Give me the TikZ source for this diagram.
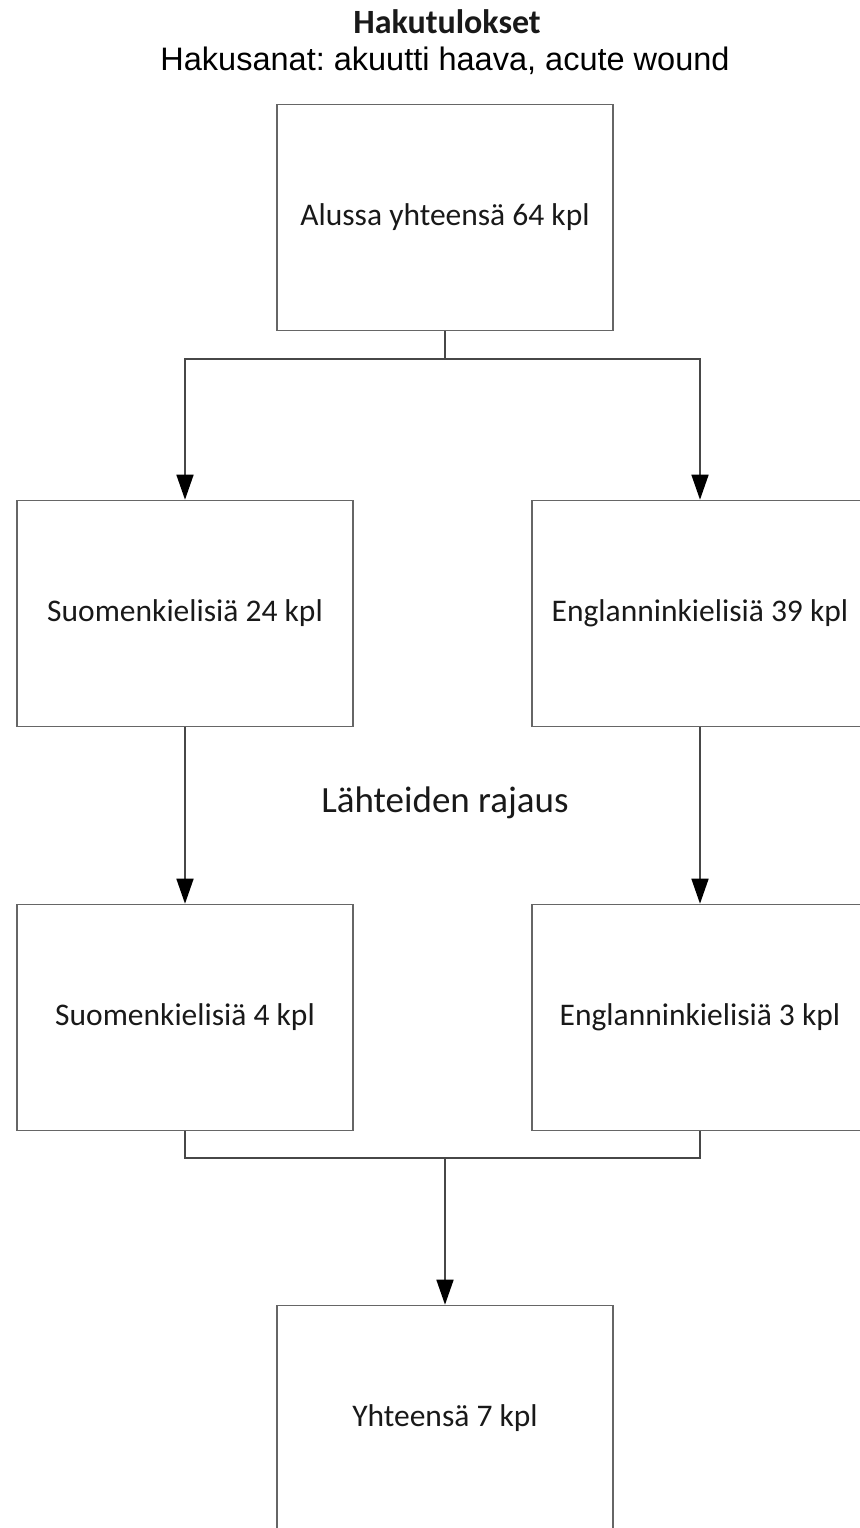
\documentclass[tikz,border=0pt]{standalone}
\usepackage{fontspec}
\setmainfont{Carlito}
\newfontfamily\arialfont{Liberation Sans}
\usepackage{tikz}
\usetikzlibrary{arrows.meta}
\usetikzlibrary{positioning}
\frenchspacing

\tikzset{
  resultbox/.style={draw=black!60, line width=1.6pt, minimum width=336pt, minimum height=226pt, inner sep=0pt, text=black!90, font=\fontsize{31.5}{36}\selectfont},
  flowline/.style={draw=black!72, line width=1.6pt},
  flowarrow/.style={flowline, -{Triangle[length=25pt, width=17pt, color=black]}},
}

\begin{document}
\begin{tikzpicture}[x=1pt, y=-1pt]
    \useasboundingbox (0, 0) rectangle (859, 1528);

    \node [font=\bfseries\fontsize{34}{40}\selectfont, text=black!90] (title) at (447, 22) {Hakutulokset};
    \node [font=\arialfont\fontsize{32.5}{36}\selectfont] (keywords) at (445, 61) {Hakusanat: akuutti haava, acute wound};

    \node [resultbox] (start) at (445, 217.5) {Alussa yhteensä 64 kpl};
    \node [resultbox] (fi-all) at (185, 613.5) {Suomenkielisiä 24 kpl};
    \node [resultbox] (en-all) at (700, 613.5) {Englanninkielisiä 39 kpl};
    \node [resultbox] (fi-sel) at (185, 1017.5) {Suomenkielisiä 4 kpl};
    \node [resultbox] (en-sel) at (700, 1017.5) {Englanninkielisiä 3 kpl};
    \node [resultbox] (total) at (445, 1418.5) {Yhteensä 7 kpl};

    \node [font=\fontsize{37}{42}\selectfont, text=black!90] (limit) at (445, 803) {Lähteiden rajaus};

    \coordinate (split) at (445, 359);
    \coordinate (merge) at (445, 1158);

    \draw [flowline] (start) -- (split);
    \draw [flowarrow] (split) -| (fi-all);
    \draw [flowarrow] (split) -| (en-all);
    \draw [flowarrow] (fi-all) -- (fi-sel);
    \draw [flowarrow] (en-all) -- (en-sel);
    \draw [flowline] (fi-sel) |- (merge);
    \draw [flowline] (en-sel) |- (merge);
    \draw [flowarrow] (merge) -- (total);
  \end{tikzpicture}
\end{document}
